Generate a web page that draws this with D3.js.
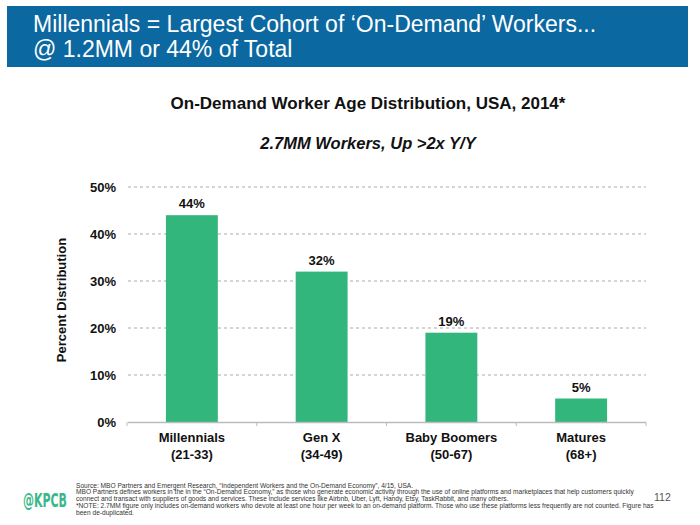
<!DOCTYPE html>
<html><head><meta charset="utf-8">
<script src="https://cdn.jsdelivr.net/npm/d3@7"></script>
<style>body{margin:0;background:#fff}svg{display:block}</style>
</head><body>
<script>
const categories = ["Millennials", "Gen X", "Baby Boomers", "Matures"];
const ageRanges = ["(21-33)", "(34-49)", "(50-67)", "(68+)"];
const values = [44, 32, 19, 5];
const yTicks = [0, 10, 20, 30, 40, 50];
const footnotes = [
  "Source:  MBO Partners and Emergent Research, \u201cIndependent Workers and the On-Demand Economy\u201d, 4/15, USA.",
  "MBO Partners defines workers in the in the \u201cOn-Demand Economy,\u201d as those who generate economic activity through the use of online platforms and marketplaces that help customers quickly",
  "connect and transact with suppliers of goods and services. These include services like Airbnb, Uber, Lyft, Handy, Etsy, TaskRabbit, and many others.",
  "*NOTE: 2.7MM figure only includes on-demand workers who devote at least one hour per week to an on-demand platform. Those who use these platforms less frequently are not counted. Figure has",
  "been de-duplicated."
];

const W = 700, H = 525;
const svg = d3.select("body").append("svg").attr("width", W).attr("height", H);
const font = "Arial, 'Liberation Sans', Helvetica, sans-serif";

// header band
svg.append("rect").attr("x", 7).attr("y", 6).attr("width", 681).attr("height", 61).attr("fill", "#0b68a0");
svg.append("text").attr("x", 33).attr("y", 32).attr("fill", "#fff").attr("font-family", font)
  .attr("font-size", 23).text("Millennials = Largest Cohort of \u2018On-Demand\u2019 Workers...");
svg.append("text").attr("x", 33).attr("y", 57).attr("fill", "#fff").attr("font-family", font)
  .attr("font-size", 23).text("@ 1.2MM or 44% of Total");

// titles
svg.append("text").attr("x", 368).attr("y", 109).attr("text-anchor", "middle").attr("font-family", font)
  .attr("font-weight", "bold").attr("font-size", 17).attr("fill", "#111").text("On-Demand Worker Age Distribution, USA, 2014*");
svg.append("text").attr("x", 368).attr("y", 149).attr("text-anchor", "middle").attr("font-family", font)
  .attr("font-weight", "bold").attr("font-style", "italic").attr("font-size", 16.5).attr("fill", "#111").text("2.7MM Workers, Up >2x Y/Y");

const x = d3.scaleBand().domain(categories).range([127, 646]).paddingInner(0.6).paddingOuter(0.3);
const y = d3.scaleLinear().domain([0, 50]).range([422, 187]);

// gridlines
svg.append("g").selectAll("line").data(yTicks.filter(d => d > 0)).join("line")
  .attr("x1", 128).attr("x2", 646).attr("y1", d => y(d)).attr("y2", d => y(d))
  .attr("stroke", "#aaa").attr("stroke-width", 1).attr("stroke-dasharray", "3,3");

// y tick labels
svg.append("g").selectAll("text").data(yTicks).join("text")
  .attr("x", 116).attr("y", d => y(d) + 5).attr("text-anchor", "end").attr("font-family", font)
  .attr("font-weight", "bold").attr("font-size", 13).attr("fill", "#111").text(d => d + "%");

svg.append("text").attr("transform", "translate(66,300) rotate(-90)").attr("text-anchor", "middle")
  .attr("font-family", font).attr("font-weight", "bold").attr("font-size", 13).attr("fill", "#111")
  .text("Percent Distribution");

// bars
svg.append("g").selectAll("rect").data(values).join("rect")
  .attr("x", (d, i) => x(categories[i])).attr("width", x.bandwidth())
  .attr("y", d => y(d)).attr("height", d => y(0) - y(d)).attr("fill", "#33b67b");

// value labels
svg.append("g").selectAll("text").data(values).join("text")
  .attr("x", (d, i) => x(categories[i]) + x.bandwidth() / 2).attr("y", d => y(d) - 7)
  .attr("text-anchor", "middle").attr("font-family", font).attr("font-weight", "bold")
  .attr("font-size", 13).attr("fill", "#111").text(d => d + "%");

// x axis
const xAxis = svg.append("g");
xAxis.append("line").attr("x1", 128).attr("x2", 646).attr("y1", y(0) + 0.5).attr("y2", y(0) + 0.5)
  .attr("stroke", "#bbb").attr("stroke-width", 1.5);
const bounds = d3.range(categories.length + 1).map(i => 127 + i * x.step());
xAxis.selectAll("line.tk").data(bounds).join("line").attr("class", "tk")
  .attr("x1", d => d).attr("x2", d => d).attr("y1", y(0)).attr("y2", y(0) + 4).attr("stroke", "#bbb");

const xl = svg.append("g").selectAll("text").data(categories).join("text")
  .attr("text-anchor", "middle").attr("font-family", font).attr("font-weight", "bold")
  .attr("font-size", 13).attr("fill", "#111");
xl.append("tspan").attr("x", d => x(d) + x.bandwidth() / 2).attr("y", 442).text(d => d);
xl.append("tspan").attr("x", d => x(d) + x.bandwidth() / 2).attr("y", 459).text((d, i) => ageRanges[i]);

// footer
svg.append("text").attr("x", 23).attr("y", 507).attr("font-family", "'Liberation Sans Narrow', 'DejaVu Sans Condensed', Arial, sans-serif")
  .attr("font-weight", "bold").attr("font-size", 19).attr("textLength", 44).attr("lengthAdjust", "spacingAndGlyphs")
  .attr("fill", "#3ab889").text("@KPCB");
svg.append("g").selectAll("text").data(footnotes).join("text")
  .attr("x", 76).attr("y", (d, i) => 487.5 + i * 6.8).attr("font-family", font).attr("font-size", 6.6)
  .attr("fill", "#333").text(d => d);
svg.append("text").attr("x", 654).attr("y", 501).attr("font-family", font).attr("font-size", 10.5)
  .attr("fill", "#555").text("112");
</script>
</body></html>
